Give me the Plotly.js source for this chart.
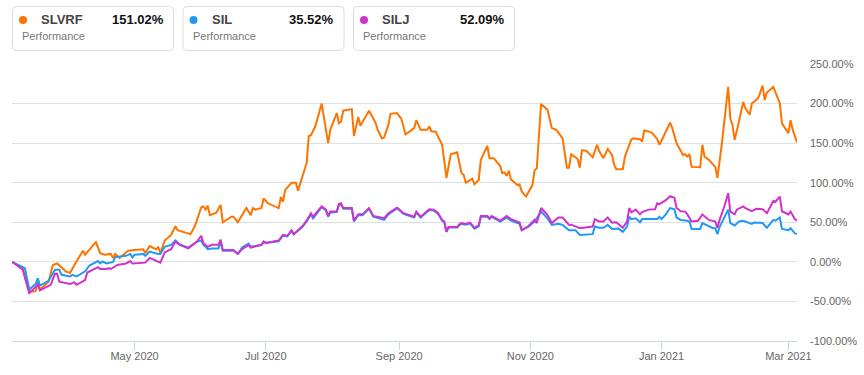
<!DOCTYPE html>
<html>
<head>
<meta charset="utf-8">
<script src="https://cdn.plot.ly/plotly-3.0.1.min.js"></script>
<style>
html,body{margin:0;padding:0;background:#fff;}
#chart{width:864px;height:375px;}
</style>
</head>
<body>
<div id="chart"></div>
<script>
// ---------- DATA ----------
const seriesNames = ['SLVRF', 'SIL', 'SILJ'];
const finalPerf = ['151.02%', '35.52%', '52.09%'];

const slvrfDates = ['2020-03-05','2020-03-10','2020-03-13','2020-03-16','2020-03-17','2020-03-18','2020-03-22','2020-03-24','2020-03-26','2020-03-30','2020-04-01','2020-04-03','2020-04-07','2020-04-08','2020-04-13','2020-04-15','2020-04-17','2020-04-20','2020-04-21','2020-04-22','2020-04-24','2020-04-28','2020-05-01','2020-05-05','2020-05-06','2020-05-08','2020-05-11','2020-05-12','2020-05-13','2020-05-15','2020-05-18','2020-05-20','2020-05-21','2020-05-27','2020-05-29','2020-06-01','2020-06-02','2020-06-03','2020-06-04','2020-06-05','2020-06-08','2020-06-10','2020-06-11','2020-06-15','2020-06-16','2020-06-18','2020-06-22','2020-06-24','2020-06-25','2020-06-26','2020-06-29','2020-06-30','2020-07-02','2020-07-07','2020-07-08','2020-07-09','2020-07-10','2020-07-13','2020-07-15','2020-07-16','2020-07-20','2020-07-21','2020-07-22','2020-07-24','2020-07-27','2020-07-30','2020-07-31','2020-08-03','2020-08-04','2020-08-05','2020-08-06','2020-08-10','2020-08-11','2020-08-13','2020-08-14','2020-08-18','2020-08-21','2020-08-22','2020-08-24','2020-08-25','2020-08-27','2020-08-28','2020-08-31','2020-09-01','2020-09-02','2020-09-04','2020-09-08','2020-09-09','2020-09-11','2020-09-14','2020-09-15','2020-09-16','2020-09-18','2020-09-21','2020-09-23','2020-09-25','2020-09-28','2020-09-30','2020-10-01','2020-10-02','2020-10-05','2020-10-06','2020-10-08','2020-10-09','2020-10-12','2020-10-13','2020-10-15','2020-10-18','2020-10-19','2020-10-20','2020-10-21','2020-10-22','2020-10-23','2020-10-26','2020-10-27','2020-10-28','2020-10-30','2020-11-02','2020-11-03','2020-11-04','2020-11-05','2020-11-06','2020-11-09','2020-11-11','2020-11-13','2020-11-16','2020-11-18','2020-11-19','2020-11-20','2020-11-23','2020-11-24','2020-11-25','2020-11-27','2020-11-30','2020-12-02','2020-12-03','2020-12-05','2020-12-07','2020-12-09','2020-12-10','2020-12-11','2020-12-14','2020-12-15','2020-12-18','2020-12-19','2020-12-22','2020-12-23','2020-12-24','2020-12-27','2020-12-28','2020-12-30','2020-12-31','2021-01-01','2021-01-05','2021-01-06','2021-01-08','2021-01-11','2021-01-12','2021-01-13','2021-01-14','2021-01-15','2021-01-19','2021-01-20','2021-01-21','2021-01-23','2021-01-26','2021-01-27','2021-01-29','2021-02-01','2021-02-02','2021-02-03','2021-02-04','2021-02-06','2021-02-08','2021-02-09','2021-02-11','2021-02-12','2021-02-15','2021-02-17','2021-02-18','2021-02-19','2021-02-22','2021-02-25','2021-02-26','2021-03-01','2021-03-02','2021-03-03','2021-03-05'];
const slvrfValues = [0,-8,-38,-37,-25,-35,-25,-4,-2,-12,-14,-4,14,9,25,11,9,10,5,10,5,14,15,16,11,20,16,18.5,11,27,34,45,40,35,45,69,70,66,71,59,62,72,50,57,57,50,68,59,68,66,68,80,74,68,82,76,91,100,100,90,125,159,160,171,200,150,167,188,175,177,191,193,159,183,172,191,176,167,156,157,173,187,188,185,181,161,169,179,167,167,171,165,164.5,148,106,136,138.5,112,110,100,105,98,103.5,129,146.5,131,131,121,112,113,108.6,115,104,97,98,89,82.5,97,116,118,153,199.5,192,169,167,156,119,119,136,130,119,141,140.5,132,148,140,131,142.7,135,122.5,117,117,133,155,156,155,152,166,164,162,155,148,153,176,169,150,135,136,133,136,120,119.6,148,133,129,120,106,148,221,181,173,154,177,202,194,186,200,207,222.6,204.5,214,221,200.5,175,162.5,179,167,151.02];

const silDates = ['2020-03-05','2020-03-10','2020-03-11','2020-03-13','2020-03-16','2020-03-17','2020-03-18','2020-03-22','2020-03-25','2020-03-27','2020-03-28','2020-04-01','2020-04-02','2020-04-04','2020-04-08','2020-04-10','2020-04-14','2020-04-15','2020-04-16','2020-04-18','2020-04-21','2020-04-22','2020-04-27','2020-04-29','2020-04-30','2020-05-01','2020-05-05','2020-05-06','2020-05-08','2020-05-12','2020-05-13','2020-05-15','2020-05-18','2020-05-20','2020-05-22','2020-05-26','2020-05-30','2020-06-01','2020-06-02','2020-06-03','2020-06-04','2020-06-06','2020-06-09','2020-06-10','2020-06-11','2020-06-16','2020-06-18','2020-06-20','2020-06-23','2020-06-24','2020-06-29','2020-06-30','2020-07-01','2020-07-07','2020-07-09','2020-07-11','2020-07-13','2020-07-14','2020-07-16','2020-07-18','2020-07-20','2020-07-22','2020-07-23','2020-07-27','2020-07-29','2020-07-30','2020-07-31','2020-08-03','2020-08-04','2020-08-05','2020-08-06','2020-08-10','2020-08-11','2020-08-13','2020-08-15','2020-08-18','2020-08-20','2020-08-23','2020-08-25','2020-08-27','2020-08-29','2020-08-31','2020-09-01','2020-09-03','2020-09-08','2020-09-09','2020-09-11','2020-09-15','2020-09-17','2020-09-19','2020-09-21','2020-09-22','2020-09-23','2020-09-24','2020-09-28','2020-09-29','2020-09-30','2020-10-02','2020-10-04','2020-10-06','2020-10-08','2020-10-09','2020-10-12','2020-10-13','2020-10-14','2020-10-18','2020-10-21','2020-10-23','2020-10-27','2020-10-28','2020-10-31','2020-11-03','2020-11-06','2020-11-09','2020-11-11','2020-11-14','2020-11-16','2020-11-19','2020-11-22','2020-11-24','2020-11-30','2020-12-01','2020-12-03','2020-12-05','2020-12-07','2020-12-09','2020-12-12','2020-12-14','2020-12-16','2020-12-17','2020-12-18','2020-12-20','2020-12-22','2020-12-23','2020-12-30','2020-12-31','2021-01-01','2021-01-03','2021-01-05','2021-01-07','2021-01-08','2021-01-10','2021-01-13','2021-01-14','2021-01-15','2021-01-19','2021-01-20','2021-01-22','2021-01-25','2021-01-26','2021-01-27','2021-01-28','2021-01-30','2021-02-01','2021-02-02','2021-02-04','2021-02-06','2021-02-08','2021-02-12','2021-02-13','2021-02-17','2021-02-19','2021-02-22','2021-02-23','2021-02-25','2021-02-26','2021-03-01','2021-03-02','2021-03-04','2021-03-05'];
const silValues = [0,-7,-8,-35,-28,-20.6,-30,-24,-10,-10,-16.4,-18.5,-16.4,-18.5,-12,-4.6,1,-2,0.4,-2,0,6,7.6,10,5.5,9,10,7.6,13,10,10,19,21.5,27,22,18,25.6,27,21.5,19,16,17,17,25.6,14,14,10,18,23,19,21.5,25.6,24,26,33,32,39,35,39,44,51,60,55,69,65,57,62.5,63,72,73,67,67,51,59,59,67,57,54,53,60,64,67.5,65.5,60.5,56,62.5,56,65.5,65,61,52,50,38,43.5,43.5,46.5,48,47,48.5,42,45,57,57,54,57,51,56,52,48,40,44,51,63.5,55,46.7,48,46.7,40,40,34,35,44.6,43,43,46.7,41.6,42,38,44.6,57,54,55,50,54,54,57,54,60,68,66.5,56,53,52,51,41.6,41.6,49,46,42.5,42.5,35,44,55,66,49,46,51,52,48,49.6,49,43,53,52,56,41.6,40,42.5,36,35.52];

const siljDates = ['2020-03-05','2020-03-10','2020-03-13','2020-03-17','2020-03-18','2020-03-20','2020-03-23','2020-03-25','2020-03-26','2020-03-27','2020-04-01','2020-04-03','2020-04-04','2020-04-08','2020-04-09','2020-04-14','2020-04-15','2020-04-18','2020-04-19','2020-04-20','2020-04-23','2020-04-27','2020-04-29','2020-04-30','2020-05-05','2020-05-06','2020-05-08','2020-05-13','2020-05-15','2020-05-18','2020-05-20','2020-05-22','2020-05-26','2020-05-30','2020-06-01','2020-06-02','2020-06-04','2020-06-06','2020-06-09','2020-06-10','2020-06-11','2020-06-16','2020-06-18','2020-06-20','2020-06-23','2020-06-24','2020-06-29','2020-06-30','2020-07-01','2020-07-07','2020-07-09','2020-07-11','2020-07-13','2020-07-14','2020-07-16','2020-07-18','2020-07-20','2020-07-22','2020-07-23','2020-07-27','2020-07-29','2020-07-30','2020-07-31','2020-08-03','2020-08-04','2020-08-05','2020-08-06','2020-08-10','2020-08-11','2020-08-13','2020-08-15','2020-08-18','2020-08-20','2020-08-23','2020-08-25','2020-08-27','2020-08-29','2020-08-31','2020-09-01','2020-09-03','2020-09-08','2020-09-09','2020-09-11','2020-09-15','2020-09-17','2020-09-19','2020-09-21','2020-09-22','2020-09-23','2020-09-24','2020-09-28','2020-09-29','2020-09-30','2020-10-02','2020-10-04','2020-10-06','2020-10-08','2020-10-09','2020-10-12','2020-10-13','2020-10-14','2020-10-18','2020-10-21','2020-10-23','2020-10-27','2020-10-28','2020-10-31','2020-11-03','2020-11-04','2020-11-06','2020-11-09','2020-11-11','2020-11-14','2020-11-16','2020-11-19','2020-11-20','2020-11-24','2020-11-30','2020-12-01','2020-12-03','2020-12-05','2020-12-07','2020-12-09','2020-12-11','2020-12-14','2020-12-16','2020-12-17','2020-12-18','2020-12-20','2020-12-22','2020-12-23','2020-12-26','2020-12-29','2020-12-30','2020-12-31','2021-01-03','2021-01-05','2021-01-07','2021-01-08','2021-01-10','2021-01-12','2021-01-13','2021-01-15','2021-01-18','2021-01-20','2021-01-22','2021-01-23','2021-01-26','2021-01-27','2021-01-28','2021-01-30','2021-02-01','2021-02-02','2021-02-04','2021-02-05','2021-02-08','2021-02-09','2021-02-12','2021-02-14','2021-02-17','2021-02-19','2021-02-22','2021-02-23','2021-02-25','2021-02-26','2021-03-01','2021-03-02','2021-03-04','2021-03-05'];
const siljValues = [0,-10,-39.5,-29,-36,-33,-29,-15,-15,-25,-28,-26,-29,-23,-13.5,-6.7,-9,-9,-8,-9,-4,-2,1,-2,-1,-1,5,-1,12,16,25.6,21.5,17,25.6,33,23.6,19,21.5,21.5,28,15,15,10,16,21.5,18,21.5,25.6,24,27,34,33,40,35,40,45,52,61.5,57,70,66,58,63.5,63.5,73,74,68,68,52,60,60,68,58,56,55,61.5,65,68.5,66.5,61.5,57,63.5,57,66.5,66,62,53,51,38,44,44,47.6,49,48,49.6,43,46,58,58,55,58,52,58,54,49.6,40,45,53,49,68,59,49,56,56,46.7,47,42.5,44.6,54,51,51,56,49.6,50,43,51,68,62.7,66,60,63,66,66.5,74,73,78,83,81,68,64,63.5,60,51,52,60,55,53,51,43,53,68,86.7,63.5,60,66,70,68,64,67,66.5,61.5,77,76,82.5,64,60,63.5,54,52.09];

const xTickVals = ['2020-05-01','2020-07-01','2020-09-01','2020-11-01','2021-01-01','2021-03-01'];
const xTickText = ['May 2020','Jul 2020','Sep 2020','Nov 2020','Jan 2021','Mar 2021'];
const yTickVals = [-100,-50,0,50,100,150,200,250];
const yTickText = ['-100.00%','-50.00%','0.00%','50.00%','100.00%','150.00%','200.00%','250.00%'];

// ---------- STYLE ----------
const colors = ['#ff7400', '#2199f4', '#d033cb'];
const FONT = 'Liberation Sans, Arial, sans-serif';
const W = 864, H = 375;
const M = {l: 12, r: 67, t: 64, b: 34};
const PW = W - M.l - M.r, PH = H - M.t - M.b;
const px = x => (x - M.l) / PW;
const py = y => (H - M.b - y) / PH;

const traces = [
  {x: slvrfDates, y: slvrfValues},
  {x: silDates, y: silValues},
  {x: siljDates, y: siljValues}
].map((t, i) => ({
  x: t.x, y: t.y, type: 'scatter', mode: 'lines', name: seriesNames[i],
  line: {color: colors[i], width: 2}, hoverinfo: 'skip'
}));

// legend cards (layout decoration)
const shapes = [];
const annotations = [];
function roundRect(x0, y0, x1, y1, r) {
  const P = (x, y) => px(x) + ',' + py(y);
  return 'M' + P(x0 + r, y0) + ' L' + P(x1 - r, y0) + ' Q' + P(x1, y0) + ' ' + P(x1, y0 + r) +
    ' L' + P(x1, y1 - r) + ' Q' + P(x1, y1) + ' ' + P(x1 - r, y1) +
    ' L' + P(x0 + r, y1) + ' Q' + P(x0, y1) + ' ' + P(x0, y1 - r) +
    ' L' + P(x0, y0 + r) + ' Q' + P(x0, y0) + ' ' + P(x0 + r, y0) + ' Z';
}
seriesNames.forEach((name, i) => {
  const ox = 12.5 + i * 170.5;
  shapes.push({type: 'path', xref: 'paper', yref: 'paper', path: roundRect(ox, 6.5, ox + 161, 50.5, 4),
    line: {color: '#dcdcdc', width: 1}, fillcolor: '#ffffff', layer: 'above'});
  shapes.push({type: 'circle', xref: 'paper', yref: 'paper',
    x0: px(ox + 6.5), x1: px(ox + 14.5), y0: py(24), y1: py(16),
    line: {width: 0}, fillcolor: colors[i], layer: 'above'});
  annotations.push({xref: 'paper', yref: 'paper', x: px(ox + 27.5), y: py(20), xanchor: 'left', yanchor: 'middle',
    text: name, showarrow: false, borderpad: 0, font: {family: FONT, size: 13, color: '#444', weight: 'bold'}});
  annotations.push({xref: 'paper', yref: 'paper', x: px(ox + 152), y: py(20), xanchor: 'right', yanchor: 'middle',
    text: finalPerf[i], showarrow: false, borderpad: 0, font: {family: FONT, size: 13, color: '#111', weight: 'bold'}});
  annotations.push({xref: 'paper', yref: 'paper', x: px(ox + 8.5), y: py(36), xanchor: 'left', yanchor: 'middle',
    text: 'Performance', showarrow: false, borderpad: 0, font: {family: FONT, size: 11, color: '#777'}});
});

const layout = {
  width: W, height: H,
  margin: M,
  paper_bgcolor: '#ffffff', plot_bgcolor: '#ffffff',
  showlegend: false,
  font: {family: FONT, size: 11, color: '#666'},
  xaxis: {
    type: 'date', range: ['2020-03-05', '2021-03-05'],
    tickvals: xTickVals, ticktext: xTickText,
    showgrid: false, zeroline: false,
    showline: true, linecolor: '#ccd6eb', linewidth: 1,
    ticks: 'outside', ticklen: 8, tickcolor: '#ccd6eb', tickwidth: 1,
    ticklabelstandoff: -3,
    tickfont: {family: FONT, size: 11, color: '#666'},
    fixedrange: true
  },
  yaxis: {
    side: 'right', range: [-100, 250],
    tickvals: yTickVals, ticktext: yTickText,
    showgrid: true, gridcolor: '#e0e0e0', gridwidth: 1,
    zeroline: false, showline: false, ticks: '',
    ticklabelstandoff: 12,
    tickfont: {family: FONT, size: 11, color: '#666'},
    fixedrange: true
  },
  shapes: shapes,
  annotations: annotations
};

Plotly.newPlot('chart', traces, layout, {displayModeBar: false, staticPlot: true});
</script>
</body>
</html>
